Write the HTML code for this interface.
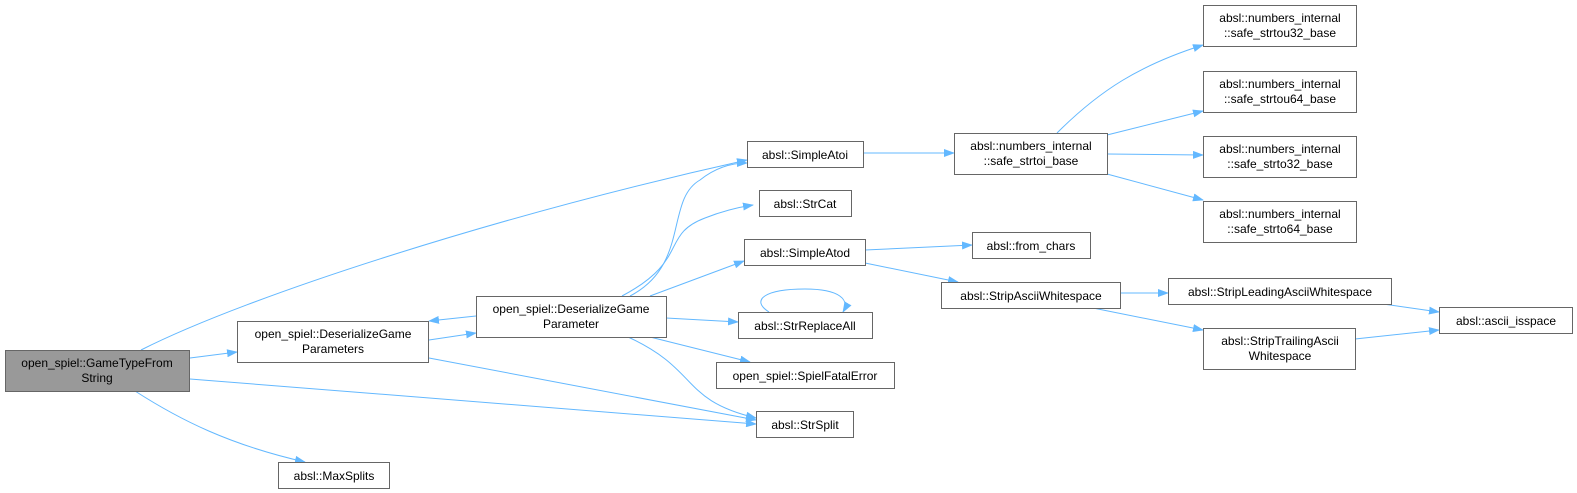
<!DOCTYPE html>
<html><head><meta charset="utf-8"><style>
body{margin:0;background:#fff;}
svg{display:block;font-family:"Liberation Sans",Arial,sans-serif;font-size:12px;}
</style></head><body>
<svg width="1577" height="493" viewBox="0 0 1577 493" xmlns="http://www.w3.org/2000/svg">
<defs>
<marker id="a" markerWidth="11" markerHeight="8" refX="10" refY="4" orient="auto" markerUnits="userSpaceOnUse">
<path d="M0,0 L11,4 L0,8 z" fill="#63b8ff"/>
</marker>
</defs>
<g fill="none" stroke="#63b8ff" stroke-width="1" marker-end="url(#a)">
<path d="M141,350 C250,295 500,215 747,160"/>
<path d="M190,358 L237,352"/>
<path d="M190,379 L756,424"/>
<path d="M135,391 C180,420 230,445 305,462"/>
<path d="M429,340 L476,333"/>
<path d="M476,316 L429,321"/>
<path d="M429,358 L756,420"/>
<path d="M630,296 C690,265 665,200 700,180 C715,168 730,163 747,163"/>
<path d="M622,296 C690,260 660,235 705,218 C725,210 740,207 753,205"/>
<path d="M650,296 L744,261"/>
<path d="M666,318 L738,322"/>
<path d="M650,337 L750,362"/>
<path d="M628,337 C700,370 680,400 756,418"/>
<path d="M769,312 C750,300 765,289 805,289 C840,289 850,300 843,312"/>
<path d="M863,153 L954,153"/>
<path d="M1057,133 C1100,90 1140,65 1203,45"/>
<path d="M1107,135 L1203,111"/>
<path d="M1107,154 L1203,155"/>
<path d="M1107,174 L1203,200"/>
<path d="M865,250 L972,245"/>
<path d="M865,263 L958,282"/>
<path d="M1120,293 L1168,293"/>
<path d="M1093,308 L1203,330"/>
<path d="M1383,304 L1439,312"/>
<path d="M1355,339 L1439,330"/>
</g>
<g stroke="#666" stroke-width="1">
<rect x="5.5" y="350.5" width="184" height="41" fill="#999"/>
<rect x="237.5" y="321.5" width="191" height="41" fill="#fff"/>
<rect x="476.5" y="296.5" width="190" height="41" fill="#fff"/>
<rect x="278.5" y="462.5" width="111" height="26" fill="#fff"/>
<rect x="747.5" y="141.5" width="116" height="26" fill="#fff"/>
<rect x="759.5" y="190.5" width="92" height="26" fill="#fff"/>
<rect x="744.5" y="239.5" width="121" height="26" fill="#fff"/>
<rect x="738.5" y="312.5" width="134" height="26" fill="#fff"/>
<rect x="716.5" y="362.5" width="178" height="26" fill="#fff"/>
<rect x="756.5" y="411.5" width="97" height="26" fill="#fff"/>
<rect x="954.5" y="133.5" width="153" height="41" fill="#fff"/>
<rect x="972.5" y="232.5" width="118" height="26" fill="#fff"/>
<rect x="941.5" y="282.5" width="179" height="26" fill="#fff"/>
<rect x="1203.5" y="5.5" width="153" height="41" fill="#fff"/>
<rect x="1203.5" y="71.5" width="153" height="41" fill="#fff"/>
<rect x="1203.5" y="136.5" width="153" height="41" fill="#fff"/>
<rect x="1203.5" y="201.5" width="153" height="41" fill="#fff"/>
<rect x="1168.5" y="278.5" width="223" height="26" fill="#fff"/>
<rect x="1203.5" y="328.5" width="152" height="41" fill="#fff"/>
<rect x="1439.5" y="307.5" width="133" height="26" fill="#fff"/>
</g>
<g fill="#000" text-anchor="middle">
<text x="97" y="367">open_spiel::GameTypeFrom</text><text x="97" y="382">String</text>
<text x="333" y="338">open_spiel::DeserializeGame</text><text x="333" y="353">Parameters</text>
<text x="571" y="313">open_spiel::DeserializeGame</text><text x="571" y="328">Parameter</text>
<text x="334" y="480">absl::MaxSplits</text>
<text x="805" y="159">absl::SimpleAtoi</text>
<text x="805" y="208">absl::StrCat</text>
<text x="805" y="257">absl::SimpleAtod</text>
<text x="805" y="330">absl::StrReplaceAll</text>
<text x="805" y="380">open_spiel::SpielFatalError</text>
<text x="805" y="429">absl::StrSplit</text>
<text x="1031" y="150">absl::numbers_internal</text><text x="1031" y="165">::safe_strtoi_base</text>
<text x="1031" y="250">absl::from_chars</text>
<text x="1031" y="300">absl::StripAsciiWhitespace</text>
<text x="1280" y="22">absl::numbers_internal</text><text x="1280" y="37">::safe_strtou32_base</text>
<text x="1280" y="88">absl::numbers_internal</text><text x="1280" y="103">::safe_strtou64_base</text>
<text x="1280" y="153">absl::numbers_internal</text><text x="1280" y="168">::safe_strto32_base</text>
<text x="1280" y="218">absl::numbers_internal</text><text x="1280" y="233">::safe_strto64_base</text>
<text x="1280" y="296">absl::StripLeadingAsciiWhitespace</text>
<text x="1280" y="345">absl::StripTrailingAscii</text><text x="1280" y="360">Whitespace</text>
<text x="1506" y="325">absl::ascii_isspace</text>
</g>
</svg>
</body></html>
